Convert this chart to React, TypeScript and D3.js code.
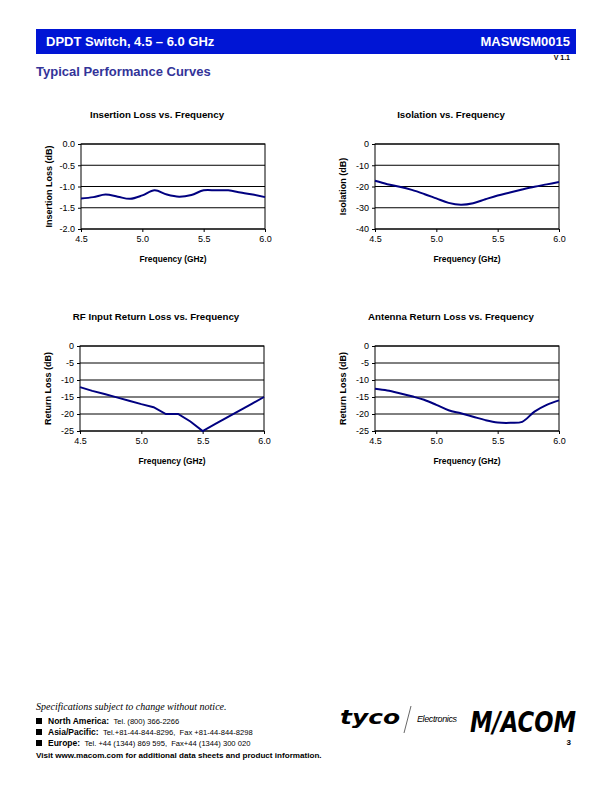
import * as d3 from "d3";
import { useEffect, useRef } from "react";

const freqs = [4.5, 4.6, 4.7, 4.8, 4.9, 5.0, 5.1, 5.2, 5.3, 5.4, 5.5, 5.6, 5.7, 5.8, 5.9, 6.0];
const xTicks = [4.5, 5.0, 5.5, 6.0];

const insertionLoss = [-1.28, -1.25, -1.19, -1.24, -1.29, -1.21, -1.09, -1.19, -1.24, -1.2, -1.09, -1.09, -1.09, -1.14, -1.19, -1.25];
const isolation = [-17.3, -18.9, -20.1, -21.6, -23.5, -25.6, -27.7, -28.6, -27.9, -26.0, -24.2, -22.8, -21.4, -20.1, -19.0, -17.9];
const rfReturnLoss = [-12.1, -13.2, -14.1, -15.1, -16.1, -17.1, -18.0, -20.0, -20.0, -22.2, -25.0, -23.0, -21.0, -19.0, -17.0, -15.0];
const antReturnLoss = [-12.6, -13.1, -13.9, -14.8, -15.8, -17.3, -18.9, -19.8, -20.8, -21.8, -22.5, -22.6, -22.3, -19.3, -17.3, -16.0];

const ilTicks = [0, -0.5, -1.0, -1.5, -2.0];
const isoTicks = [0, -10, -20, -30, -40];
const rlTicks = [0, -5, -10, -15, -20, -25];

const FONT = "'Liberation Sans', Arial, Helvetica, sans-serif";

// excel-style labels use a plain hyphen, not the unicode minus d3 gives
const fmtOne = (v: number) => v.toFixed(1);
const fmtInt = (v: number) => v.toFixed(0);

interface ChartSpec {
	title: string;
	yLabel: string;
	values: number[];
	yTicks: number[];
	yFmt: (v: number) => string;
	smooth: boolean;
	left: number;
	top: number;
}

const charts: ChartSpec[] = [
	{ title: "Insertion Loss vs. Frequency", yLabel: "Insertion Loss (dB)", values: insertionLoss, yTicks: ilTicks, yFmt: fmtOne, smooth: true, left: 81, top: 144 },
	{ title: "Isolation vs. Frequency", yLabel: "Isolation (dB)", values: isolation, yTicks: isoTicks, yFmt: fmtInt, smooth: true, left: 375, top: 144 },
	{ title: "RF Input Return Loss vs. Frequency", yLabel: "Return Loss (dB)", values: rfReturnLoss, yTicks: rlTicks, yFmt: fmtInt, smooth: false, left: 80, top: 346 },
	{ title: "Antenna Return Loss vs. Frequency", yLabel: "Return Loss (dB)", values: antReturnLoss, yTicks: rlTicks, yFmt: fmtInt, smooth: true, left: 375, top: 346 },
];

function drawChart(svg: d3.Selection<SVGSVGElement, unknown, null, undefined>, c: ChartSpec) {
	const w = 184;
	const h = 85;
	const g = svg.append("g").attr("transform", `translate(${c.left},${c.top})`);
	const x = d3.scaleLinear().domain([4.5, 6.0]).range([0, w]);
	const y = d3.scaleLinear().domain([d3.min(c.yTicks)!, d3.max(c.yTicks)!]).range([h, 0]);

	// grid lines
	g.selectAll("line.grid")
		.data(c.yTicks)
		.enter()
		.append("line")
		.attr("x1", 0)
		.attr("x2", w)
		.attr("y1", (d) => y(d))
		.attr("y2", (d) => y(d))
		.attr("stroke", "#000")
		.attr("stroke-width", 1);
	g.append("rect").attr("width", w).attr("height", h).attr("fill", "none").attr("stroke", "#000").attr("stroke-width", 1);

	const yAxis = d3.axisLeft(y).tickValues(c.yTicks).tickFormat((d) => c.yFmt(d as number)).tickSize(3).tickPadding(3);
	const ya = g.append("g").call(yAxis);
	ya.select(".domain").remove();
	ya.selectAll("text").attr("font-family", FONT).attr("font-size", 9).attr("fill", "#000");

	const xAxis = d3.axisBottom(x).tickValues(xTicks).tickFormat((d) => fmtOne(d as number)).tickSize(3).tickPadding(4);
	const xa = g.append("g").attr("transform", `translate(0,${h})`).call(xAxis);
	xa.select(".domain").remove();
	xa.selectAll("text").attr("font-family", FONT).attr("font-size", 9).attr("fill", "#000");

	const line = d3
		.line<number>()
		.x((_, i) => x(freqs[i]))
		.y((d) => y(d))
		.curve(c.smooth ? d3.curveCatmullRom.alpha(0.5) : d3.curveLinear);
	g.append("path").attr("d", line(c.values)).attr("fill", "none").attr("stroke", "#000080").attr("stroke-width", 2);

	g.append("text")
		.attr("x", w / 2 - 16)
		.attr("y", -26)
		.attr("text-anchor", "middle")
		.attr("font-family", FONT)
		.attr("font-weight", "bold")
		.attr("font-size", 9.7)
		.text(c.title);
	g.append("text")
		.attr("x", w / 2)
		.attr("y", h + 33)
		.attr("text-anchor", "middle")
		.attr("font-family", FONT)
		.attr("font-weight", "bold")
		.attr("font-size", 8.4)
		.text("Frequency (GHz)");
	g.append("text")
		.attr("transform", `translate(-29,${h / 2}) rotate(-90)`)
		.attr("text-anchor", "middle")
		.attr("font-family", FONT)
		.attr("font-weight", "bold")
		.attr("font-size", 9)
		.text(c.yLabel);
}

const footerRows = [
	{ head: "North America:", body: "Tel. (800) 366-2266" },
	{ head: "Asia/Pacific:", body: "Tel.+81-44-844-8296,  Fax +81-44-844-8298" },
	{ head: "Europe:", body: "Tel. +44 (1344) 869 595,  Fax+44 (1344) 300 020" },
];

function App() {
	const ref = useRef<SVGSVGElement>(null);
	useEffect(() => {
		const svg = d3.select(ref.current!);
		svg.selectAll("*").remove();

		// header
		svg.append("rect").attr("x", 36).attr("y", 29).attr("width", 540).attr("height", 25).attr("fill", "#0015d5");
		svg.append("text").attr("x", 46).attr("y", 46).attr("fill", "#fff").attr("font-family", FONT).attr("font-weight", "bold").attr("font-size", 13).text("DPDT Switch, 4.5 \u2013 6.0 GHz");
		svg.append("text").attr("x", 570).attr("y", 46).attr("text-anchor", "end").attr("fill", "#fff").attr("font-family", FONT).attr("font-weight", "bold").attr("font-size", 13).text("MASWSM0015");
		svg.append("text").attr("x", 570).attr("y", 60).attr("text-anchor", "end").attr("font-family", FONT).attr("font-weight", "bold").attr("font-size", 7).text("V 1.1");
		svg.append("text").attr("x", 36).attr("y", 76).attr("fill", "#333399").attr("font-family", FONT).attr("font-weight", "bold").attr("font-size", 13).text("Typical Performance Curves");

		charts.forEach((c) => drawChart(svg, c));

		// footer
		svg.append("text").attr("x", 36).attr("y", 710).attr("font-family", "'Liberation Serif', 'Times New Roman', serif").attr("font-style", "italic").attr("font-size", 10).text("Specifications subject to change without notice.");
		footerRows.forEach((r, i) => {
			const by = 724 + i * 11;
			svg.append("rect").attr("x", 36).attr("y", by - 6).attr("width", 6).attr("height", 6).attr("fill", "#000");
			const t = svg.append("text").attr("x", 48).attr("y", by).attr("font-family", FONT);
			t.append("tspan").attr("font-weight", "bold").attr("font-size", 8.5).text(r.head + " ");
			t.append("tspan").attr("font-size", 7.6).attr("xml:space", "preserve").text(" " + r.body);
		});
		svg.append("text").attr("x", 36).attr("y", 758).attr("font-family", FONT).attr("font-weight", "bold").attr("font-size", 8.1).text("Visit www.macom.com for additional data sheets and product information.");

		// logos
		svg.append("text").attr("x", 340).attr("y", 724).attr("font-family", "'DejaVu Sans', sans-serif").attr("font-weight", "bold").attr("font-style", "italic").attr("font-size", 20).attr("textLength", 60).attr("lengthAdjust", "spacingAndGlyphs").text("tyco");
		svg.append("line").attr("x1", 411).attr("y1", 706).attr("x2", 404).attr("y2", 733).attr("stroke", "#000").attr("stroke-width", 0.6);
		svg.append("text").attr("x", 417).attr("y", 722).attr("font-family", FONT).attr("font-style", "italic").attr("font-size", 9).attr("textLength", 40).text("Electronics");
		svg.append("text").attr("x", 470).attr("y", 732).attr("font-family", "'DejaVu Sans', sans-serif").attr("font-weight", "bold").attr("font-style", "italic").attr("font-size", 28).attr("textLength", 106).attr("lengthAdjust", "spacingAndGlyphs").text("M/ACOM");
		svg.append("text").attr("x", 571).attr("y", 745).attr("text-anchor", "end").attr("font-family", FONT).attr("font-weight", "bold").attr("font-size", 8).text("3");
	}, []);
	return (
		<svg ref={ref} width={612} height={792} style={{ position: "absolute", left: 0, top: 0, background: "#fff" }} />
	);
}

export default App;
